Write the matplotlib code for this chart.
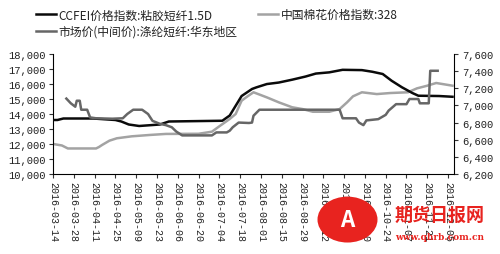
import matplotlib
matplotlib.use("Agg")
import matplotlib.pyplot as plt
import matplotlib.dates as mdates
from matplotlib.patches import Ellipse
from matplotlib.ticker import FuncFormatter
import pandas as pd

plt.rcParams['font.family'] = ['Noto Sans CJK SC', 'DejaVu Sans']

# ---- data ----
viscose_dates = ["2016-03-14", "2016-03-17", "2016-03-21", "2016-04-10", "2016-04-25", "2016-04-29",
                 "2016-05-04", "2016-05-11", "2016-05-18", "2016-05-25", "2016-05-31", "2016-07-06",
                 "2016-07-11", "2016-07-15", "2016-07-19", "2016-07-26", "2016-07-29", "2016-08-05",
                 "2016-08-13", "2016-08-22", "2016-08-31", "2016-09-07", "2016-09-16", "2016-09-25",
                 "2016-10-08", "2016-10-15", "2016-10-22", "2016-10-28", "2016-11-04", "2016-11-11",
                 "2016-11-15", "2016-11-29", "2016-12-08"]
viscose_vals = [13600, 13600, 13700, 13700, 13600, 13500,
                13300, 13200, 13250, 13300, 13500, 13550,
                13900, 14550, 15200, 15670, 15780, 16000,
                16100, 16290, 16500, 16700, 16780, 16950,
                16930, 16820, 16670, 16220, 15780, 15400,
                15220, 15200, 15150]

cotton_dates = ["2016-03-14", "2016-03-17", "2016-03-20", "2016-03-24", "2016-04-12", "2016-04-14",
                "2016-04-16", "2016-04-21", "2016-04-26", "2016-05-06", "2016-05-18", "2016-05-29",
                "2016-06-20", "2016-06-29", "2016-07-04", "2016-07-11", "2016-07-15", "2016-07-19",
                "2016-07-23", "2016-07-27", "2016-08-05", "2016-08-13", "2016-08-22", "2016-08-29",
                "2016-09-05", "2016-09-16", "2016-09-23", "2016-09-28", "2016-10-02", "2016-10-08",
                "2016-10-18", "2016-10-27", "2016-11-08", "2016-11-14", "2016-11-21", "2016-11-27",
                "2016-12-08"]
cotton_vals = [12000, 11950, 11900, 11700, 11700, 11800,
               11930, 12220, 12380, 12510, 12600, 12670,
               12680, 12820, 13180, 13670, 14000, 14890,
               15180, 15450, 15110, 14780, 14450, 14330,
               14150, 14150, 14330, 14780, 15180, 15450,
               15330, 15400, 15450, 15710, 15890, 16070,
               15890]

polyester_dates = ["2016-03-23", "2016-03-26", "2016-03-29", "2016-03-30", "2016-04-01", "2016-04-02",
                   "2016-04-06", "2016-04-08", "2016-04-12", "2016-04-23", "2016-04-30", "2016-05-03",
                   "2016-05-07", "2016-05-13", "2016-05-17", "2016-05-20", "2016-05-25", "2016-05-29",
                   "2016-06-02", "2016-06-05", "2016-06-09", "2016-06-29", "2016-07-02", "2016-07-09",
                   "2016-07-11", "2016-07-13", "2016-07-17", "2016-07-24", "2016-07-26", "2016-07-27",
                   "2016-07-31", "2016-09-23", "2016-09-24", "2016-09-25", "2016-10-04", "2016-10-06",
                   "2016-10-09", "2016-10-11", "2016-10-19", "2016-10-24", "2016-10-26", "2016-10-31",
                   "2016-11-07", "2016-11-09", "2016-11-15", "2016-11-16", "2016-11-22", "2016-11-23",
                   "2016-11-28"]
polyester_vals = [7080, 7025, 6985, 7055, 7055, 6950,
                  6950, 6860, 6850, 6845, 6850, 6900,
                  6950, 6950, 6900, 6820, 6785, 6770,
                  6745, 6695, 6650, 6650, 6685, 6685,
                  6705, 6745, 6800, 6795, 6800, 6880,
                  6950, 6950, 6900, 6850, 6850, 6800,
                  6770, 6825, 6840, 6890, 6940, 7015,
                  7015, 7075, 7075, 7025, 7025, 7405,
                  7405]

tick_dates = ["2016-03-14", "2016-03-28", "2016-04-11", "2016-04-25", "2016-05-09", "2016-05-23",
              "2016-06-06", "2016-06-20", "2016-07-04", "2016-07-18", "2016-08-01", "2016-08-15",
              "2016-08-29", "2016-09-12", "2016-09-26", "2016-10-10", "2016-10-24", "2016-11-07",
              "2016-11-21", "2016-12-05"]

label_viscose = "CCFEI价格指数:粘胶短纤1.5D"
label_cotton = "中国棉花价格指数:328"
label_poly = "市场价(中间价):涤纶短纤:华东地区"

# ---- figure ----
fig = plt.figure(figsize=(5.0, 2.55), dpi=100)
ax = fig.add_axes([0.106, 0.314, 0.802, 0.470])
ax2 = ax.twinx()

c_black = "#0a0a0a"
c_light = "#a3a3a3"
c_dark = "#666666"

l1, = ax.plot(pd.to_datetime(viscose_dates), viscose_vals, color=c_black, lw=1.8, zorder=3)
l2, = ax.plot(pd.to_datetime(cotton_dates), cotton_vals, color=c_light, lw=1.8, zorder=2)
l3, = ax2.plot(pd.to_datetime(polyester_dates), polyester_vals, color=c_dark, lw=1.8)

ax.set_xlim(pd.Timestamp("2016-03-14"), pd.Timestamp("2016-12-09"))
ax.set_ylim(10000, 18000)
ax2.set_ylim(6200, 7600)
ax.set_yticks(range(10000, 18001, 1000))
ax2.set_yticks(range(6200, 7601, 200))
fmt = FuncFormatter(lambda v, p: f"{int(v):,}")
ax.yaxis.set_major_formatter(fmt)
ax2.yaxis.set_major_formatter(fmt)

ax.set_xticks(pd.to_datetime(tick_dates))
ax.xaxis.set_major_formatter(mdates.DateFormatter("%Y-%m-%d"))

mono = "Liberation Mono"
for a in (ax, ax2):
    a.spines["top"].set_visible(False)
    a.tick_params(length=3, width=0.8, color="#333333")
ax.spines["right"].set_visible(False)
ax2.spines["left"].set_visible(False)
ax2.spines["bottom"].set_visible(False)
for lab in ax.get_yticklabels() + ax2.get_yticklabels():
    lab.set_fontfamily(mono)
    lab.set_fontsize(7.6)
    lab.set_color("#222222")
for lab in ax.get_xticklabels():
    lab.set_fontfamily(mono)
    lab.set_fontsize(7.2)
    lab.set_rotation(-90)
    lab.set_color("#222222")
ax.tick_params(axis="x", pad=2)
ax.tick_params(axis="y", pad=2)
ax2.tick_params(axis="y", pad=3)

leg = fig.legend([l1, l3, l2], [label_viscose, label_poly, label_cotton],
                 loc="upper left", bbox_to_anchor=(0.05, 1.005), ncol=2, frameon=False,
                 fontsize=8.5, handlelength=1.7, handletextpad=0.25, columnspacing=1.7,
                 labelspacing=0.3)
for t in leg.get_texts():
    t.set_color("#222222")

# watermark
fig.patches.append(Ellipse((0.695, 0.135), 0.12, 0.18, transform=fig.transFigure,
                           facecolor="#e8231f", edgecolor="none", zorder=10))
fig.text(0.695, 0.135, "A", transform=fig.transFigure, color="white", fontsize=16,
         fontweight="bold", ha="center", va="center", zorder=11)
fig.text(0.88, 0.155, "期货日报网", color="#e8231f", fontsize=13, fontweight="bold",
         ha="center", va="center", zorder=11)
fig.text(0.88, 0.07, "www.qhrb.com.cn", color="#e8231f", fontsize=6.5,
         fontfamily="DejaVu Serif", fontweight="bold", ha="center", va="center", zorder=11)

fig.savefig("out.png", dpi=100)
